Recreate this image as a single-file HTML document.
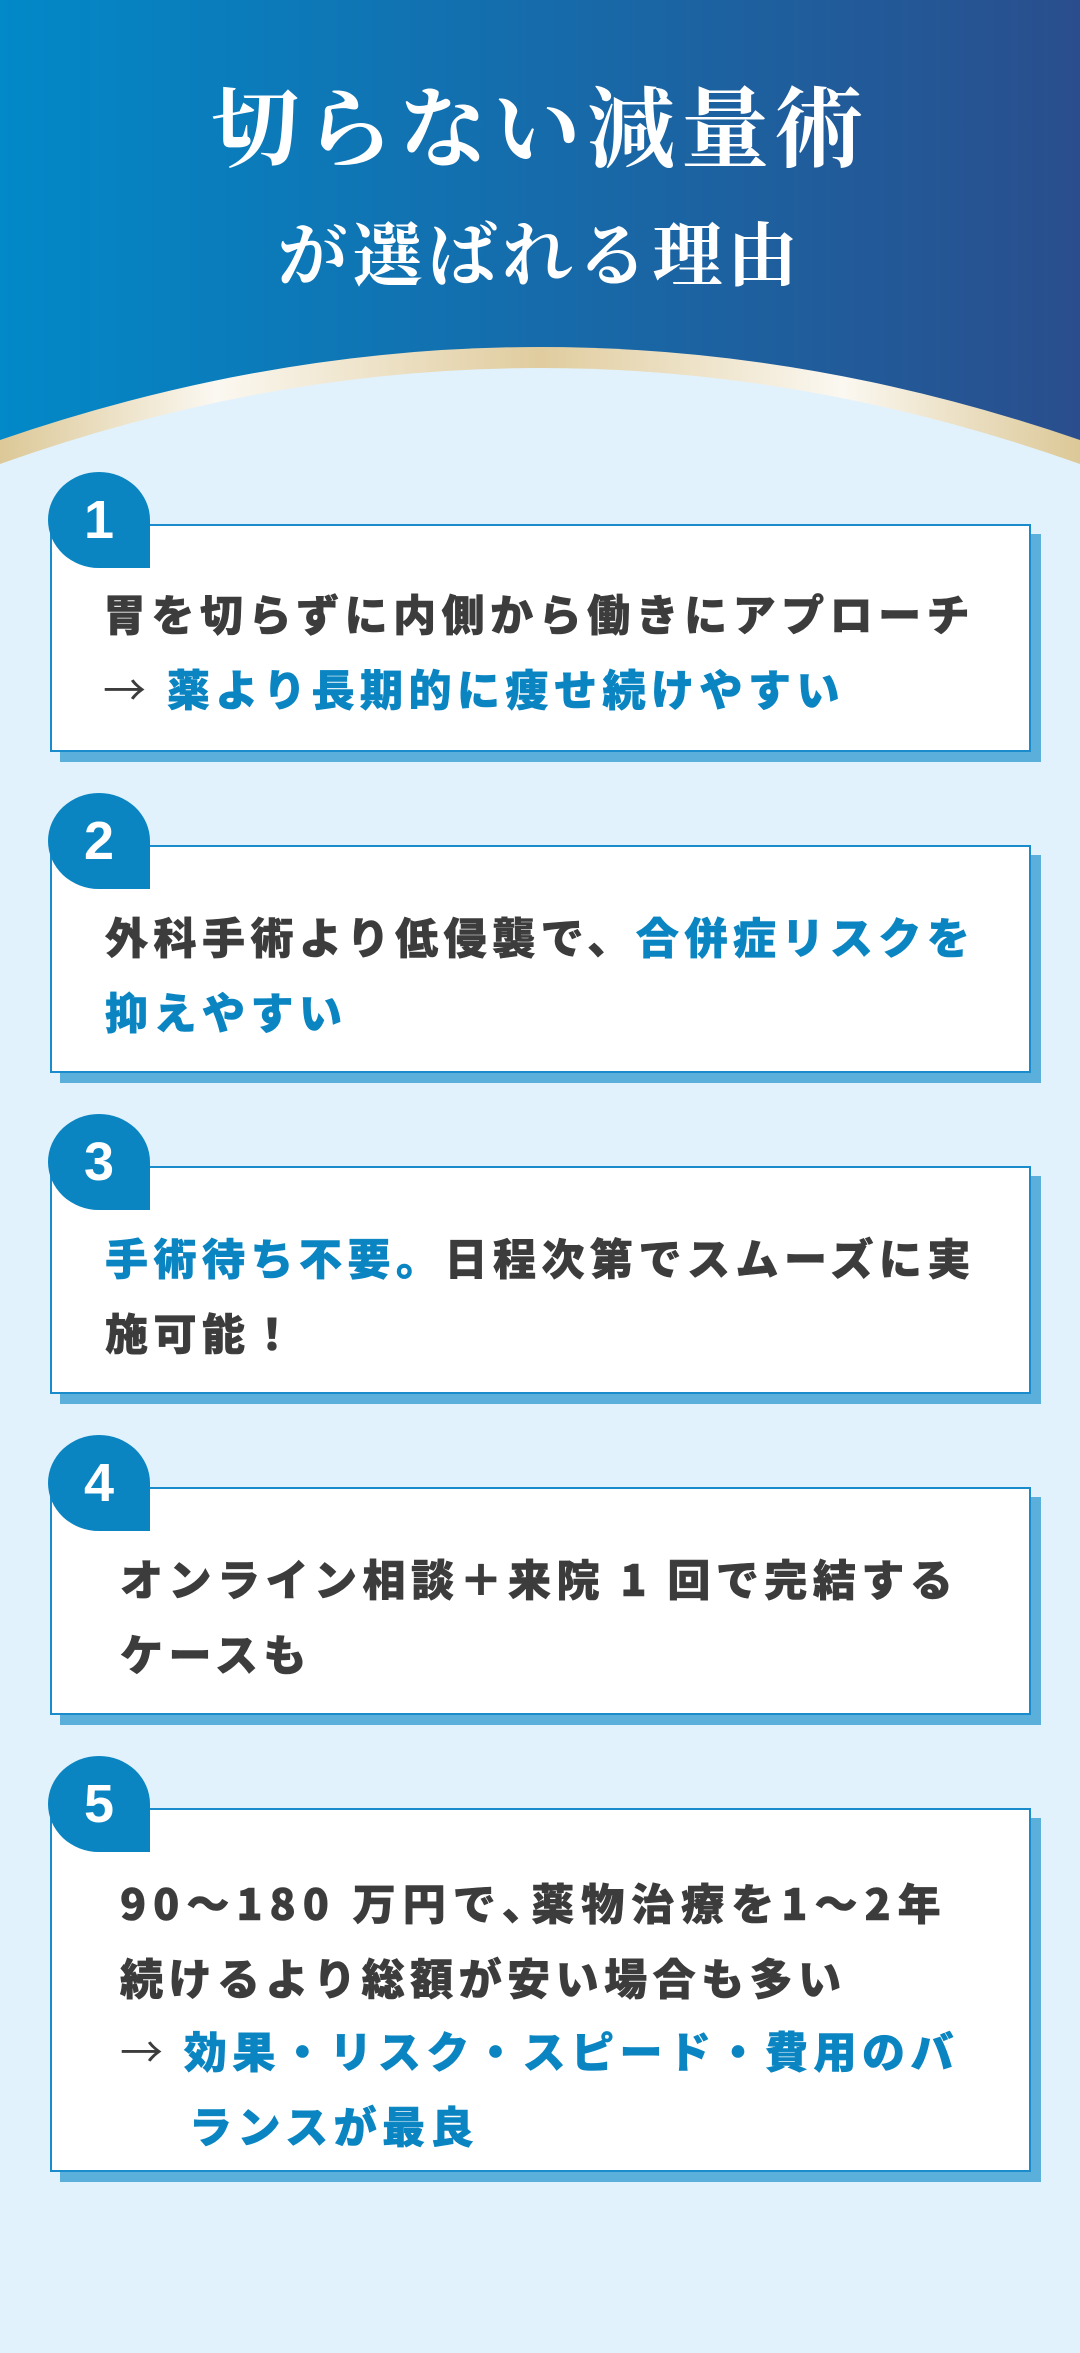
<!DOCTYPE html>
<html><head><meta charset="utf-8"><style>
*{margin:0;padding:0;box-sizing:border-box}
body{width:1080px;height:2353px;background:#e2f2fc;position:relative;overflow:hidden;font-family:"Liberation Sans","Noto Sans CJK JP",sans-serif}
.t{position:absolute;left:0;width:1080px;text-align:center;color:#fff;font-family:"Liberation Serif","Noto Serif CJK JP","Noto Serif CJK SC",serif;font-weight:700}
.badge{position:absolute;left:48px;width:102px;height:96px;background:#0a85c2;border-radius:50% 50% 0 50%;color:#fff;font:bold 54px "Liberation Sans",sans-serif;text-align:center;line-height:96px}
.box{position:absolute;left:50px;width:981px;background:#fff;border:2px solid #1a8ccc;box-shadow:10px 10px 0 #5ab0db}
.ln{position:absolute;white-space:nowrap;font-family:"Noto Sans CJK JP",sans-serif;font-weight:900;font-size:43px;line-height:50px;letter-spacing:5.5px;color:#3c3c3c;-webkit-text-stroke:0.6px currentColor}
.b{color:#0a85c2}
.ar{font-weight:400;-webkit-text-stroke:0}
</style></head><body>
<svg width="1080" height="500" style="position:absolute;left:0;top:0">
<defs>
<linearGradient id="hg" x1="0" x2="1" y1="0" y2="0"><stop offset="0" stop-color="#0289c8"/><stop offset="1" stop-color="#2a4e8d"/></linearGradient>
<linearGradient id="gg" x1="0" x2="1" y1="0" y2="0"><stop offset="0" stop-color="#dcc897"/><stop offset="0.2" stop-color="#fbf8f1"/><stop offset="0.5" stop-color="#e0cc9e"/><stop offset="0.78" stop-color="#fbf8f1"/><stop offset="1" stop-color="#dcc897"/></linearGradient>
</defs>
<rect width="1080" height="500" fill="url(#hg)"/>
<path d="M0,440 Q540,254 1080,440 L1080,500 L0,500Z" fill="url(#gg)"/>
<path d="M0,464 Q540,272 1080,464 L1080,500 L0,500Z" fill="#e2f2fc"/>
</svg>
<div class="t" style="top:82px;font-size:88px;line-height:100px;letter-spacing:6px">切らない減量術</div>
<div class="t" style="top:218px;font-size:70px;line-height:80px;letter-spacing:5px">が選ばれる理由</div>

<div class="box" style="top:524px;height:228px"></div>
<div class="badge" style="top:472px">1</div>
<div class="ln" style="left:103px;top:588px">胃を切らずに内側から働きにアプローチ</div>
<div class="ln" style="left:103px;top:663px"><span class="ar">→</span> <span class="b">薬より長期的に痩せ続けやすい</span></div>

<div class="box" style="top:845px;height:228px"></div>
<div class="badge" style="top:793px">2</div>
<div class="ln" style="left:105px;top:911px">外科手術より低侵襲で、<span class="b">合併症リスクを</span></div>
<div class="ln b" style="left:105px;top:986px">抑えやすい</div>

<div class="box" style="top:1166px;height:228px"></div>
<div class="badge" style="top:1114px">3</div>
<div class="ln" style="left:105px;top:1232px"><span class="b">手術待ち不要。</span>日程次第でスムーズに実</div>
<div class="ln" style="left:105px;top:1307px">施可能！</div>

<div class="box" style="top:1487px;height:228px"></div>
<div class="badge" style="top:1435px">4</div>
<div class="ln" style="left:120px;top:1553px">オンライン相談＋来院 1 回で完結する</div>
<div class="ln" style="left:120px;top:1628px">ケースも</div>

<div class="box" style="top:1808px;height:364px"></div>
<div class="badge" style="top:1756px">5</div>
<div class="ln" style="left:120px;top:1877px;letter-spacing:7px">90～180 万円で､薬物治療を1～2年</div>
<div class="ln" style="left:120px;top:1952px">続けるより総額が安い場合も多い</div>
<div class="ln" style="left:120px;top:2025px"><span class="ar">→</span> <span class="b">効果・リスク・スピード・費用のバ</span></div>
<div class="ln b" style="left:189px;top:2100px">ランスが最良</div>
</body></html>
